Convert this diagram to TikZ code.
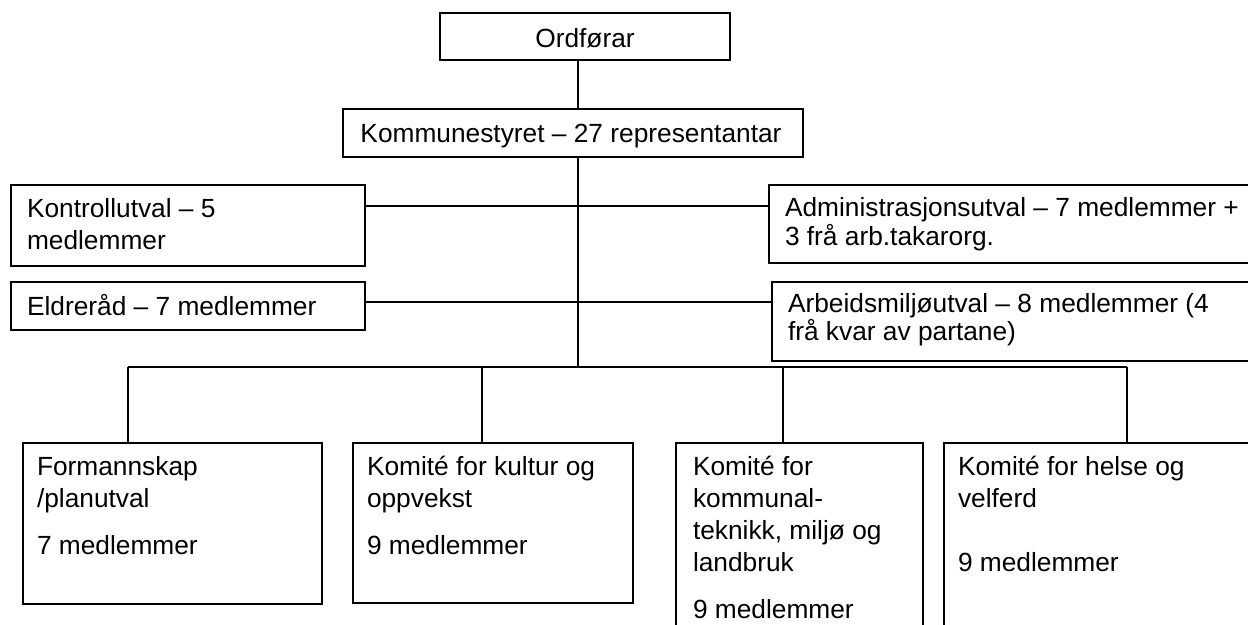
\documentclass[tikz,border=0pt]{standalone}
\usepackage{fontspec}
\setmainfont{Liberation Sans}
\newcommand\bt[2]{\begin{minipage}[t]{300pt}\fontsize{13.15pt}{#1}\selectfont #2\end{minipage}}
\tikzset{
  boxst/.style={draw=black, line width=0.7pt, rectangle, inner sep=0pt, outer sep=0pt, anchor=north west, fill=white},
  txt/.style={inner sep=0pt, outer sep=0pt, font=\fontsize{13.15pt}{16pt}\selectfont, text=black},
  conn/.style={draw=black, line width=0.65pt}
}
\newcommand\mkbox[5]{\node[boxst, minimum width=#4*0.5pt, minimum height=#5*0.5pt] (#1) at (#2,#3) {};}
\begin{document}
\begin{tikzpicture}[x=0.5pt, y=-0.5pt]
\useasboundingbox (0,0) rectangle (1248,625);
\clip (0,0) rectangle (1248,625);
% helper coordinates
\coordinate (tr) at (578,0);
\coordinate (h1) at (0,206);
\coordinate (h2) at (0,302);
\coordinate (busL) at (128,367);
\coordinate (j2) at (482,367);
\coordinate (j3) at (783,367);
\coordinate (busR) at (1127,367);
% connectors (drawn first, boxes on top)
\draw[conn] (h1 -| 365,0) -- (h1 -| 769,0);
\draw[conn] (h2 -| 365,0) -- (h2 -| 772,0);
\draw[conn] (busL) -- (busR);
% boxes
\mkbox{ord}{440}{13}{290}{47}
\mkbox{kom}{343}{109}{460}{48}
\mkbox{kon}{11}{185}{354}{81}
\mkbox{eld}{11}{282}{354}{48}
\mkbox{adm}{769}{185}{600}{78}
\mkbox{arb}{772}{282}{600}{79}
\mkbox{fa}{23}{443}{299}{161}
\mkbox{fb}{353}{443}{280}{160}
\mkbox{fc}{676}{443}{247}{250}
\mkbox{fd}{944}{443}{400}{250}
% connectors between named nodes
\draw[conn] (ord.south -| tr) -- (kom.north -| tr);
\draw[conn] (kom.south -| tr) -- (busL -| tr);
\draw[conn] (kon.east |- h1) -- (adm.west |- h1);
\draw[conn] (eld.east |- h2) -- (arb.west |- h2);
\draw[conn] (busL) -- (busL |- fa.north);
\draw[conn] (j2) -- (j2 |- fb.north);
\draw[conn] (j3) -- (j3 |- fc.north);
\draw[conn] (busR) -- (busR |- fd.north);
% texts
\node[txt, anchor=base] (tord) at (585,48) {Ordførar};
\node[txt, anchor=base] (tkom) at (571,143) {Kommunestyret – 27 representantar};
\node[txt, anchor=base west] (tkon) at (27,218) {\bt{16pt}{Kontrollutval – 5\\medlemmer}};
\node[txt, anchor=base west] (teld) at (27,316) {\bt{16pt}{Eldreråd – 7 medlemmer}};
\node[txt, anchor=base west] (tadm) at (785,217) {\bt{13pt}{Administrasjonsutval – 7 medlemmer +\\3 frå arb.takarorg.}};
\node[txt, anchor=base west] (tarb) at (788,313) {\bt{14pt}{Arbeidsmiljøutval – 8 medlemmer (4\\frå kvar av partane)}};
\node[txt, anchor=base west] (tfa) at (37,476) {\bt{16pt}{Formannskap\\/planutval\\[7.5pt]7 medlemmer}};
\node[txt, anchor=base west] (tfb) at (367,476) {\bt{16pt}{Komité for kultur og\\oppvekst\\[7.5pt]9 medlemmer}};
\node[txt, anchor=base west] (tfc) at (693,476) {\bt{16pt}{Komité for\\kommunal-\\teknikk, miljø og\\landbruk\\[7.5pt]9 medlemmer}};
\node[txt, anchor=base west] (tfd) at (958,476) {\bt{16pt}{Komité for helse og\\velferd\\[16pt]9 medlemmer}};
\end{tikzpicture}
\end{document}
